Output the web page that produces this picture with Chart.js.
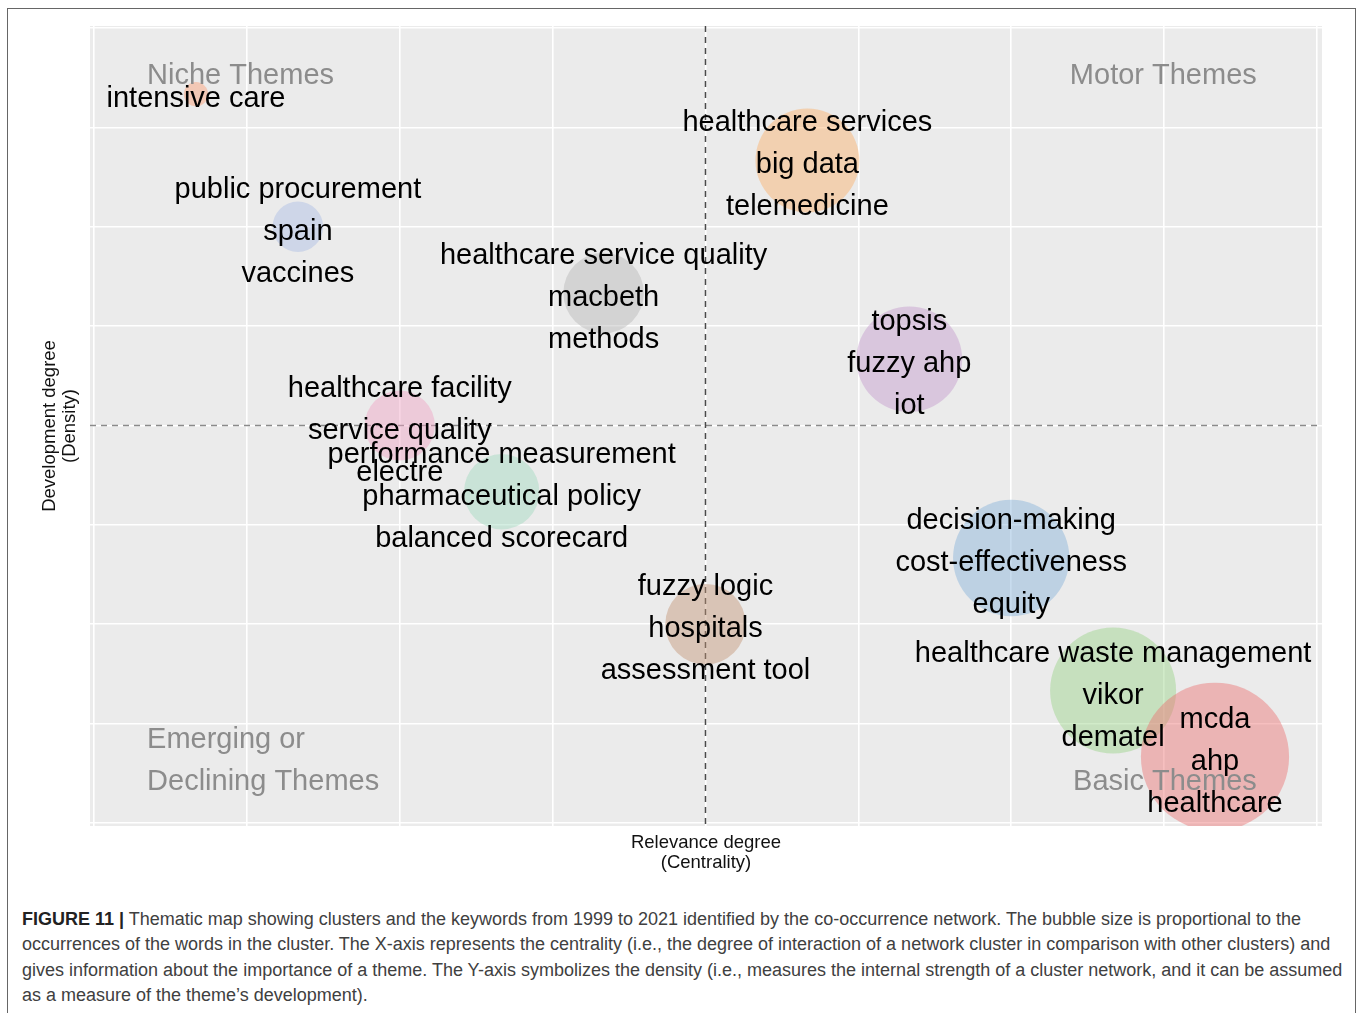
<!DOCTYPE html>
<html>
<head>
<meta charset="utf-8">
<script src="https://cdn.jsdelivr.net/npm/chart.js@4.4.1/dist/chart.umd.min.js"></script>
<style>
  html, body { margin: 0; padding: 0; background: #fff; }
  body { width: 1358px; height: 1013px; position: relative; overflow: hidden; }
  #frame { position: absolute; left: 7px; top: 8px; width: 1347px; height: 1100px; border: 1px solid #666; }
  #chart { position: absolute; left: 0; top: 0; }
  #caption {
    position: absolute; left: 22px; top: 907px;
    font-family: 'Liberation Sans', Arial, sans-serif; font-size: 18px; line-height: 25.3px;
    color: #404040; white-space: nowrap;
  }
  #caption b { color: #222; }
</style>
</head>
<body>
<div id="frame"></div>
<canvas id="chart" width="1358" height="890"></canvas>
<div id="caption">
  <div><b>FIGURE 11 |</b> Thematic map showing clusters and the keywords from 1999 to 2021 identified by the co-occurrence network. The bubble size is proportional to the</div>
  <div>occurrences of the words in the cluster. The X-axis represents the centrality (i.e., the degree of interaction of a network cluster in comparison with other clusters) and</div>
  <div>gives information about the importance of a theme. The Y-axis symbolizes the density (i.e., measures the internal strength of a cluster network, and it can be assumed</div>
  <div>as a measure of the theme’s development).</div>
</div>
<script>
// cluster keywords, ordered by centrality rank
const clusterWords = [
  ['intensive care'],
  ['public procurement', 'spain', 'vaccines'],
  ['healthcare facility', 'service quality', 'electre'],
  ['performance measurement', 'pharmaceutical policy', 'balanced scorecard'],
  ['healthcare service quality', 'macbeth', 'methods'],
  ['fuzzy logic', 'hospitals', 'assessment tool'],
  ['healthcare services', 'big data', 'telemedicine'],
  ['topsis', 'fuzzy ahp', 'iot'],
  ['decision-making', 'cost-effectiveness', 'equity'],
  ['healthcare waste management', 'vikor', 'dematel'],
  ['mcda', 'ahp', 'healthcare']
];
const centralityRank = [1, 2, 3, 4, 5, 6, 7, 8, 9, 10, 11];
const densityRank = [11, 9, 6, 5, 8, 3, 10, 7, 4, 2, 1];
const occurrences = [3, 13, 25, 29, 33, 33, 55, 57, 69, 81, 112];
const clusterColors = [
  'rgba(253,157,115,0.45)', 'rgba(171,188,228,0.45)', 'rgba(240,162,195,0.45)',
  'rgba(160,217,191,0.45)', 'rgba(182,182,182,0.45)', 'rgba(195,149,117,0.45)',
  'rgba(251,175,104,0.45)', 'rgba(195,153,204,0.45)', 'rgba(133,177,217,0.45)',
  'rgba(153,210,135,0.45)', 'rgba(235,113,113,0.45)'
];
const gridRanks = [0, 1.5, 3, 4.5, 6, 7.5, 9, 10.5, 12];

// quadrant names, anchored in rank units
const quadrantNames = [['Niche Themes'], ['Motor Themes'], ['Emerging or', 'Declining Themes'], ['Basic Themes']];
const quadrantX = [0.52, 11.41, 0.52, 11.41];
const quadrantY = [11.3, 11.3, 0.65, 0.65];
const quadrantAlign = ['left', 'right', 'left', 'right'];

const FONT = "'Liberation Sans', Arial, sans-serif";
Chart.defaults.font.family = FONT;
Chart.defaults.color = '#111';

const mean = arr => arr.reduce((a, b) => a + b, 0) / arr.length;

const mapPlugin = {
  id: 'thematicMap',
  beforeDraw(chart) {
    const {ctx, chartArea: a} = chart;
    ctx.save();
    ctx.fillStyle = '#EBEBEB';
    ctx.fillRect(a.left, a.top, a.right - a.left, a.bottom - a.top);
    ctx.restore();
  },
  beforeDatasetsDraw(chart) {
    const {ctx, chartArea: a, scales: {x, y}} = chart;
    const mx = x.getPixelForValue(mean(centralityRank));
    const my = y.getPixelForValue(mean(densityRank));
    ctx.save();
    ctx.lineWidth = 1.5;
    ctx.setLineDash([6, 5]);
    ctx.strokeStyle = '#8a8a8a';
    ctx.beginPath(); ctx.moveTo(a.left, my); ctx.lineTo(a.right, my); ctx.stroke();
    ctx.strokeStyle = '#4a4a4a';
    ctx.beginPath(); ctx.moveTo(mx, a.top); ctx.lineTo(mx, a.bottom); ctx.stroke();
    ctx.restore();
  },
  afterDatasetsDraw(chart) {
    const {ctx, scales: {x, y}} = chart;
    const lineGap = 42;
    ctx.save();
    ctx.font = '29px ' + FONT;
    ctx.textBaseline = 'alphabetic';

    // quadrant names
    ctx.fillStyle = '#8c8c8c';
    quadrantNames.forEach((lines, i) => {
      ctx.textAlign = quadrantAlign[i];
      const px = x.getPixelForValue(quadrantX[i]);
      const py = y.getPixelForValue(quadrantY[i]) + 10;
      lines.forEach((t, j) => ctx.fillText(t, px, py - (lines.length - 1 - j) * lineGap));
    });

    // cluster keywords centred on each bubble
    ctx.fillStyle = '#000';
    ctx.textAlign = 'center';
    clusterWords.forEach((words, i) => {
      const px = x.getPixelForValue(centralityRank[i]);
      const py = y.getPixelForValue(densityRank[i]) + 13;
      words.forEach((w, j) => ctx.fillText(w, px, py + (j - (words.length - 1) / 2) * lineGap));
    });
    ctx.restore();
  }
};

const axisFont = {size: 18.5, lineHeight: '20px'};

new Chart(document.getElementById('chart'), {
  type: 'bubble',
  data: {
    datasets: [{
      data: centralityRank.map((cx, i) => ({x: cx, y: densityRank[i], r: 7 * Math.sqrt(occurrences[i])})),
      backgroundColor: clusterColors,
      borderWidth: 0
    }]
  },
  options: {
    responsive: false,
    animation: false,
    events: [],
    layout: {autoPadding: false, padding: {left: 35, right: 36, top: 26, bottom: 17}},
    plugins: {legend: {display: false}, tooltip: {enabled: false}},
    scales: {
      x: {
        type: 'linear', min: -0.04, max: 12.05,
        afterBuildTicks: s => { s.ticks = gridRanks.map(v => ({value: v})); },
        ticks: {display: false},
        grid: {color: '#fff', lineWidth: 1.6, drawTicks: false},
        border: {display: false},
        title: {display: true, text: ['Relevance degree', '(Centrality)'], font: axisFont, color: '#111', padding: {top: 7, bottom: 0}}
      },
      y: {
        type: 'linear', min: -0.045, max: 12.03,
        afterBuildTicks: s => { s.ticks = gridRanks.map(v => ({value: v})); },
        ticks: {display: false},
        grid: {color: '#fff', lineWidth: 1.6, drawTicks: false},
        border: {display: false},
        title: {display: true, text: ['Development degree', '(Density)'], font: axisFont, color: '#111', padding: {top: 5, bottom: 10}}
      }
    }
  },
  plugins: [mapPlugin]
});
</script>
</body>
</html>
